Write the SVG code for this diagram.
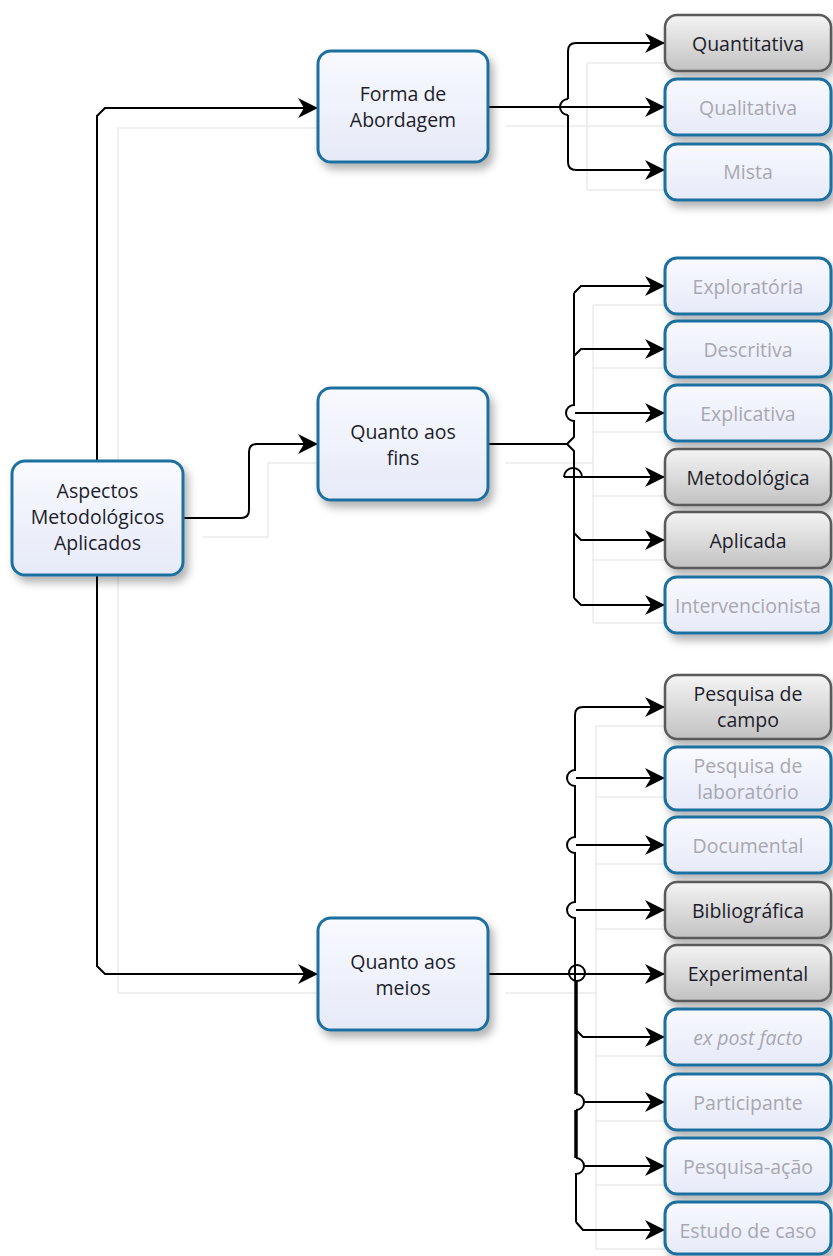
<svg xmlns="http://www.w3.org/2000/svg" width="833" height="1256" viewBox="0 0 833 1256">
<defs>
<linearGradient id="gBlue" x1="0" y1="0" x2="0" y2="1">
<stop offset="0" stop-color="#f9faff"/>
<stop offset="1" stop-color="#e6eaf8"/>
</linearGradient>
<linearGradient id="gGray" x1="0" y1="0" x2="0" y2="1">
<stop offset="0" stop-color="#f4f4f4"/>
<stop offset="1" stop-color="#c2c2c2"/>
</linearGradient>
<filter id="sh" x="-20%" y="-20%" width="150%" height="160%">
<feDropShadow dx="4" dy="6" stdDeviation="4" flood-color="#000" flood-opacity="0.3"/>
</filter>
<marker id="arr" markerUnits="userSpaceOnUse" markerWidth="24" markerHeight="24" refX="20" refY="10" orient="auto" overflow="visible">
<path d="M0,0 L20,10 L0,20 L6,10 Z" fill="#000"/>
</marker>
<style>
.bb{fill:url(#gBlue);stroke:#1f6fa0;stroke-width:3;filter:url(#sh)}
.bg{fill:url(#gGray);stroke:#5a5a5a;stroke-width:2.5;filter:url(#sh)}
text{font-family:"Open Sans","Noto Sans","DejaVu Sans",sans-serif;font-size:19.5px;text-anchor:middle;dominant-baseline:central}
.td{fill:#1d1d2b}
.tl{fill:#a8a7b0}
.c{fill:none;stroke:#000;stroke-width:2}
.ca{fill:none;stroke:#000;stroke-width:2;marker-end:url(#arr)}
.g{fill:none;stroke:#ebebeb;stroke-width:1.5}
</style>
</defs>
<rect width="833" height="1256" fill="#fff"/>

<g id="ghosts">
<path class="g" d="M118,461 V128 H318"/>
<path class="g" d="M118,575 V993 H318"/>
<path class="g" d="M203,537 H268 V463 H318"/>
<path class="g" d="M505,126 H587 M587,63 V190 M587,63 H665 M587,126 H665 M587,190 H665"/>
<path class="g" d="M505,463 H593 M593,305 V623 M593,305 H665 M593,368 H665 M593,432 H665 M593,496 H665 M593,560 H665 M593,623 H665"/>
<path class="g" d="M505,993 H596 M596,726 V1250 M596,726 H665 M596,797 H665 M596,864 H665 M596,929 H665 M596,1056 H665 M596,1121 H665 M596,1185 H665 M596,1249 H665"/>
</g>

<g id="connectors">
<path class="ca" d="M97,461 V116 L105,108 H318"/>
<path class="ca" d="M97,575 V966 L105,974 H318"/>
<path class="ca" d="M183,518 H241 Q249,518 249,510 V452 Q249,444 257,444 H318"/>

<path class="ca" d="M568,99 V51 Q568,43 576,43 H665"/>
<path class="ca" d="M488,107 H665"/>
<path class="ca" d="M568,115 V162 Q568,170 576,170 H665"/>
<path class="c" d="M568,99 A8,8 0 0 0 568,115"/>

<path class="c" d="M574,293 V405 A8,8 0 0 0 574,421 V437 L567,444 L574,451 V598"/>
<path class="ca" d="M574,293 L581,286 H665"/>
<path class="ca" d="M574,356 L581,349 H665"/>
<path class="ca" d="M575,413 H665"/>
<path class="c" d="M488,444 H567"/>
<path class="ca" d="M564,477 H665"/>
<path class="c" d="M564,477 A9,9 0 0 1 582,477"/>
<path class="ca" d="M574,533 L581,540 H665"/>
<path class="ca" d="M574,598 L581,605 H665"/>

<path class="c" d="M575,715 V770 A8,8 0 0 0 575,786 V837 A8,8 0 0 0 575,853 V902 A8,8 0 0 0 575,918 V981"/>
<path class="c" style="stroke-width:3.5" d="M576,981 V1094"/>
<path class="c" d="M576,1094 A8,8 0 0 1 576,1110"/>
<path class="c" style="stroke-width:3.5" d="M576,1110 V1158"/>
<path class="c" d="M576,1158 A8,8 0 0 1 576,1174 V1222"/>
<circle class="c" cx="577" cy="973" r="8"/>
<path class="ca" d="M575,715 Q575,707 583,707 H665"/>
<path class="ca" d="M576,778 H665"/>
<path class="ca" d="M576,845 H665"/>
<path class="ca" d="M576,910 H665"/>
<path class="ca" d="M488,974 H665"/>
<path class="ca" d="M576,1030 L583,1037 H665"/>
<path class="ca" d="M584,1102 H665"/>
<path class="ca" d="M584,1166 H665"/>
<path class="ca" d="M576,1222 L583,1230 H665"/>
</g>

<g id="node-main">
<rect class="bb" x="12" y="461" width="171" height="114" rx="13"/>
<text class="td" x="97.5" y="490">Aspectos</text>
<text class="td" x="97.5" y="516">Metodológicos</text>
<text class="td" x="97.5" y="542">Aplicados</text>
</g>
<g id="node-forma">
<rect class="bb" x="318" y="51" width="170" height="111" rx="13"/>
<text class="td" x="403" y="93">Forma de</text>
<text class="td" x="403" y="119">Abordagem</text>
</g>
<g id="node-fins">
<rect class="bb" x="318" y="388" width="170" height="112" rx="13"/>
<text class="td" x="403" y="431">Quanto aos</text>
<text class="td" x="403" y="457">fins</text>
</g>
<g id="node-meios">
<rect class="bb" x="318" y="918" width="170" height="112" rx="13"/>
<text class="td" x="403" y="961">Quanto aos</text>
<text class="td" x="403" y="987">meios</text>
</g>

<g id="leaf-quantitativa"><rect class="bg" x="665" y="15" width="166" height="56" rx="12"/><text class="td" x="748" y="43">Quantitativa</text></g>
<g id="leaf-qualitativa"><rect class="bb" x="665" y="79" width="166" height="56" rx="12"/><text class="tl" x="748" y="107">Qualitativa</text></g>
<g id="leaf-mista"><rect class="bb" x="665" y="144" width="166" height="56" rx="12"/><text class="tl" x="748" y="171">Mista</text></g>

<g id="leaf-exploratoria"><rect class="bb" x="665" y="258" width="166" height="56" rx="12"/><text class="tl" x="748" y="286">Exploratória</text></g>
<g id="leaf-descritiva"><rect class="bb" x="665" y="321" width="166" height="56" rx="12"/><text class="tl" x="748" y="349">Descritiva</text></g>
<g id="leaf-explicativa"><rect class="bb" x="665" y="385" width="166" height="56" rx="12"/><text class="tl" x="748" y="413">Explicativa</text></g>
<g id="leaf-metodologica"><rect class="bg" x="665" y="449" width="166" height="56" rx="12"/><text class="td" x="748" y="477">Metodológica</text></g>
<g id="leaf-aplicada"><rect class="bg" x="665" y="512" width="166" height="56" rx="12"/><text class="td" x="748" y="540">Aplicada</text></g>
<g id="leaf-intervencionista"><rect class="bb" x="665" y="577" width="166" height="56" rx="12"/><text class="tl" x="748" y="605">Intervencionista</text></g>

<g id="leaf-campo"><rect class="bg" x="665" y="675" width="166" height="64" rx="12"/><text class="td" x="748" y="693">Pesquisa de</text><text class="td" x="748" y="719">campo</text></g>
<g id="leaf-laboratorio"><rect class="bb" x="665" y="747" width="166" height="63" rx="12"/><text class="tl" x="748" y="765">Pesquisa de</text><text class="tl" x="748" y="791">laboratório</text></g>
<g id="leaf-documental"><rect class="bb" x="665" y="817" width="166" height="56" rx="12"/><text class="tl" x="748" y="845">Documental</text></g>
<g id="leaf-bibliografica"><rect class="bg" x="665" y="882" width="166" height="56" rx="12"/><text class="td" x="748" y="910">Bibliográfica</text></g>
<g id="leaf-experimental"><rect class="bg" x="665" y="945" width="166" height="56" rx="12"/><text class="td" x="748" y="973">Experimental</text></g>
<g id="leaf-expostfacto"><rect class="bb" x="665" y="1009" width="166" height="56" rx="12"/><text class="tl" x="748" y="1037" font-style="italic">ex post facto</text></g>
<g id="leaf-participante"><rect class="bb" x="665" y="1074" width="166" height="56" rx="12"/><text class="tl" x="748" y="1102">Participante</text></g>
<g id="leaf-pesquisaacao"><rect class="bb" x="665" y="1138" width="166" height="56" rx="12"/><text class="tl" x="748" y="1166">Pesquisa-ação</text></g>
<g id="leaf-estudo"><rect class="bb" x="665" y="1202" width="166" height="52" rx="12"/><text class="tl" x="748" y="1230">Estudo de caso</text></g>
</svg>
